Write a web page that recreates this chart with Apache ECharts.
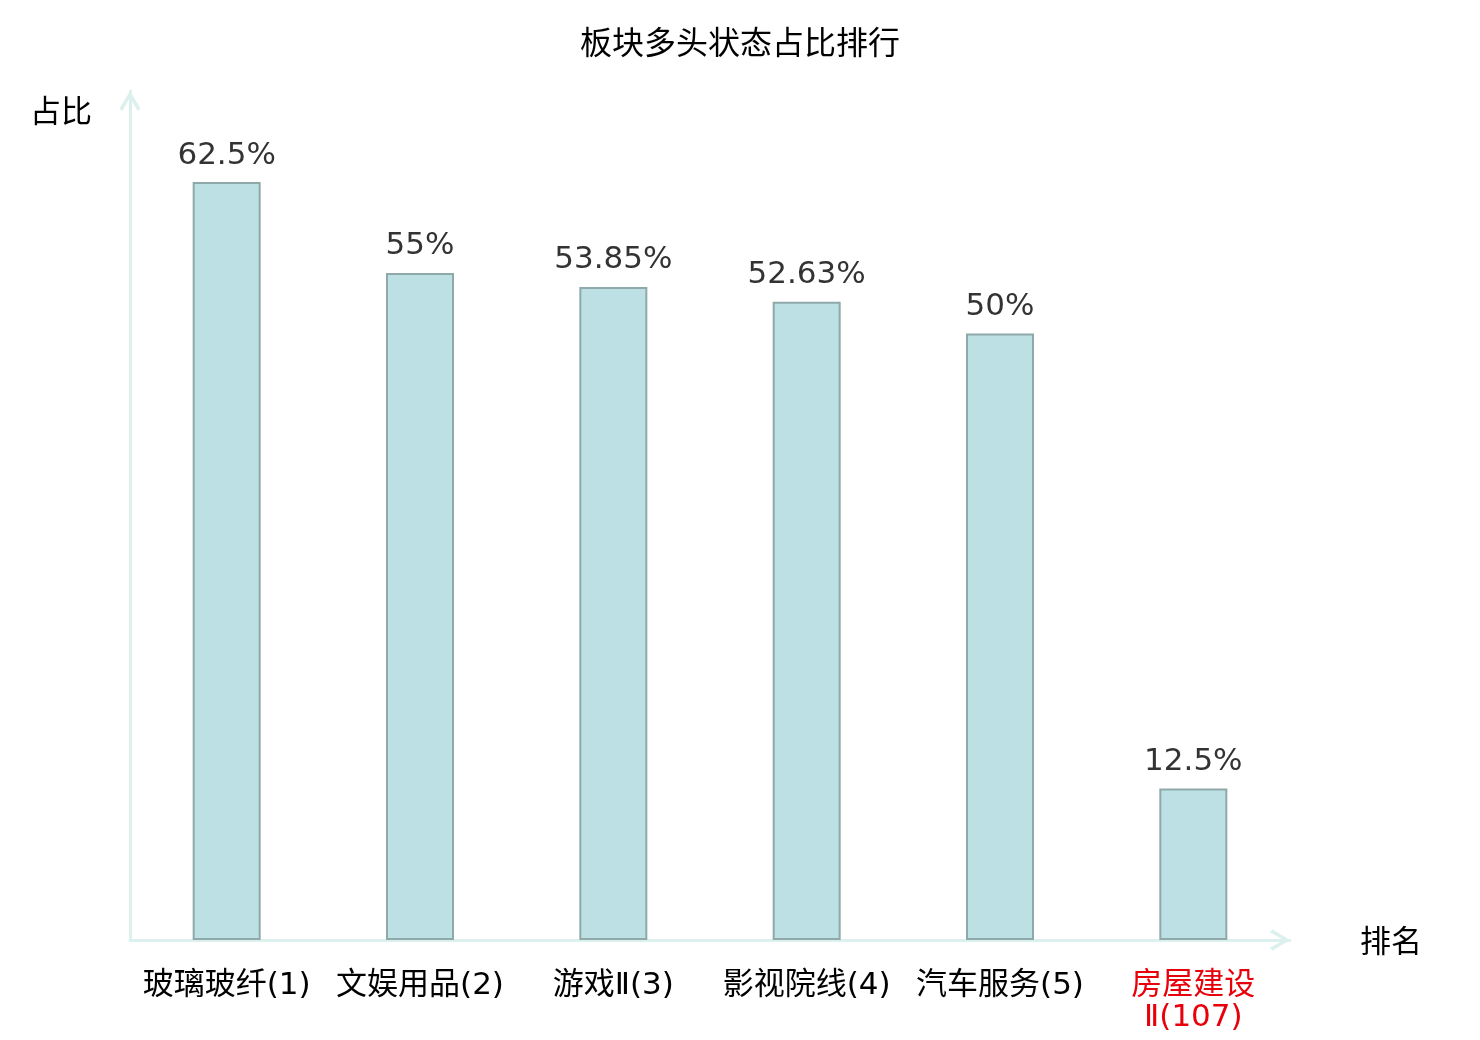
<!DOCTYPE html>
<html>
<head>
<meta charset="utf-8">
<title>板块多头状态占比排行</title>
<script src="https://cdn.jsdelivr.net/npm/echarts@6/dist/echarts.min.js"></script>
<style>
    html, body { margin: 0; padding: 0; background: #fff; }
    #chart { width: 1480px; height: 1040px; }
</style>
</head>
<body>
<div id="chart"></div>
<script>
// 板块名称(排名)
const categories = ['玻璃玻纤(1)', '文娱用品(2)', '游戏Ⅱ(3)', '影视院线(4)', '汽车服务(5)', '房屋建设Ⅱ(107)']
// 多头状态占比 %
const ratios = [62.5, 55, 53.85, 52.63, 50, 12.5]
// 需要标红的板块
const highlighted = ['房屋建设Ⅱ(107)']

const cjkFont = '"Noto Sans CJK SC", sans-serif'
const mixFont = '"DejaVu Sans", "Noto Sans CJK SC", sans-serif'
// 开放式箭头
const chevron = 'path://M10,0 L20,16.6 L17.2,18.8 L10,6 L2.8,18.8 L0,16.6 Z'

let chart = echarts.init(document.getElementById('chart'))

chart.setOption({
    animation: false,
    title: {
        text: '板块多头状态占比排行',
        left: 'center',
        top: 21,
        textStyle: {
            color: '#000000',
            fontSize: 32,
            fontWeight: 'normal',
            fontFamily: cjkFont
        }
    },
    grid: {
        left: 130,
        right: 190,
        top: 91,
        bottom: 100,
        containLabel: false
    },
    xAxis: {
        type: 'category',
        data: categories.map((c) => ({
            value: c,
            textStyle: highlighted.includes(c) ? { color: '#e8000b', width: 140 } : {}
        })),
        name: '排名',
        nameLocation: 'end',
        nameGap: 70,
        nameTextStyle: { color: '#000', fontSize: 31, fontFamily: cjkFont },
        axisLine: {
            lineStyle: { color: '#dcf1ee', width: 3 },
            symbol: ['none', chevron],
            symbolSize: [22, 20],
            symbolOffset: [0, -10]
        },
        axisTick: { show: false },
        axisLabel: {
            interval: 0,
            color: '#000',
            fontSize: 31,
            fontFamily: mixFont,
            margin: 30,
            lineHeight: 32,
            width: 193,
            overflow: 'break'
        }
    },
    yAxis: {
        type: 'value',
        min: 0,
        max: 70,
        name: '占比',
        nameLocation: 'end',
        nameGap: -19,
        nameTextStyle: {
            color: '#000',
            fontSize: 31,
            fontFamily: cjkFont,
            align: 'right',
            verticalAlign: 'middle',
            padding: [0, 38, 0, 0]
        },
        axisLine: {
            show: true,
            lineStyle: { color: '#dcf1ee', width: 3 },
            symbol: ['none', chevron],
            symbolSize: [22, 20],
            symbolOffset: [0, -10]
        },
        axisTick: { show: false },
        axisLabel: { show: false },
        splitLine: { show: false }
    },
    series: [
        {
            type: 'bar',
            data: ratios,
            barWidth: 68,
            itemStyle: {
                color: '#bce0e3',
                borderColor: '#8fa9aa',
                borderWidth: 2
            },
            label: {
                show: true,
                position: 'top',
                distance: 11,
                color: '#333',
                fontSize: 31,
                fontFamily: '"DejaVu Sans", sans-serif',
                formatter: (p) => p.value + '%'
            }
        }
    ]
})
</script>
</body>
</html>
